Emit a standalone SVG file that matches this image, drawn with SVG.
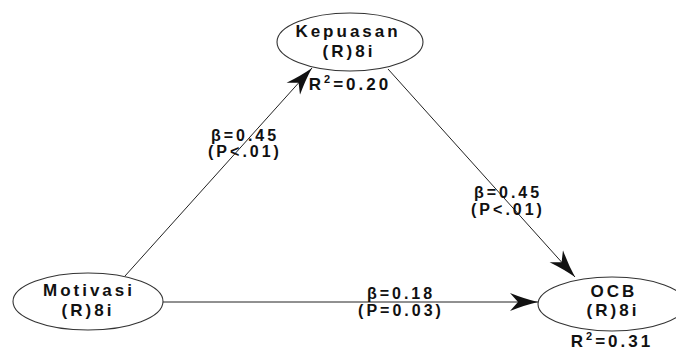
<svg xmlns="http://www.w3.org/2000/svg" width="676" height="354" viewBox="0 0 676 354">
<style>
.node ellipse{fill:#ffffff;stroke:#333333;stroke-width:1.1}
text{font-family:"Liberation Sans",Arial,sans-serif;font-weight:bold;font-size:17px;letter-spacing:3px;fill:#111111;text-anchor:middle}
text.lbl{font-size:16px;letter-spacing:3px}
.conn line{stroke:#222222;stroke-width:1}
.sup{font-size:11px}
</style>
<defs>
<marker id="arr" markerUnits="userSpaceOnUse" markerWidth="32" markerHeight="22" refX="28" refY="11" orient="auto" viewBox="0 0 32 22">
<path d="M0,2 Q15,8 28,11 Q15,14 0,20 L8,11 Z" fill="#111111"/>
</marker>
</defs>
<rect width="676" height="354" fill="#ffffff"/>
<g class="conn" id="connectors">
<line x1="125" y1="276" x2="312" y2="68" marker-end="url(#arr)"/>
<line x1="388" y1="69" x2="575" y2="277" marker-end="url(#arr)"/>
<line x1="163" y1="302" x2="538" y2="302" marker-end="url(#arr)"/>
</g>
<g id="kepuasan" class="node">
<ellipse cx="350" cy="42" rx="73" ry="29"/>
<text x="348" y="37">Kepuasan</text>
<text x="349" y="56.5">(R)8i</text>
</g>
<g id="motivasi" class="node">
<ellipse cx="88" cy="301.5" rx="75" ry="28.5"/>
<text x="89" y="296">Motivasi</text>
<text x="88" y="315.5">(R)8i</text>
</g>
<g id="ocb" class="node">
<ellipse cx="612" cy="304" rx="74" ry="27"/>
<text x="614" y="296.5">OCB</text>
<text x="613" y="316">(R)8i</text>
</g>
<g id="labels">
<text x="350" y="90">R<tspan class="sup" dy="-7">2</tspan><tspan dy="7">=0.20</tspan></text>
<text x="612" y="347">R<tspan class="sup" dy="-7">2</tspan><tspan dy="7">=0.31</tspan></text>
<text class="lbl" x="245" y="141">β=0.45</text>
<text class="lbl" x="245" y="157">(P&lt;.01)</text>
<text class="lbl" x="508" y="198">β=0.45</text>
<text class="lbl" x="508" y="215">(P&lt;.01)</text>
<text class="lbl" x="401" y="299">β=0.18</text>
<text class="lbl" x="401" y="316">(P=0.03)</text>
</g>
</svg>
